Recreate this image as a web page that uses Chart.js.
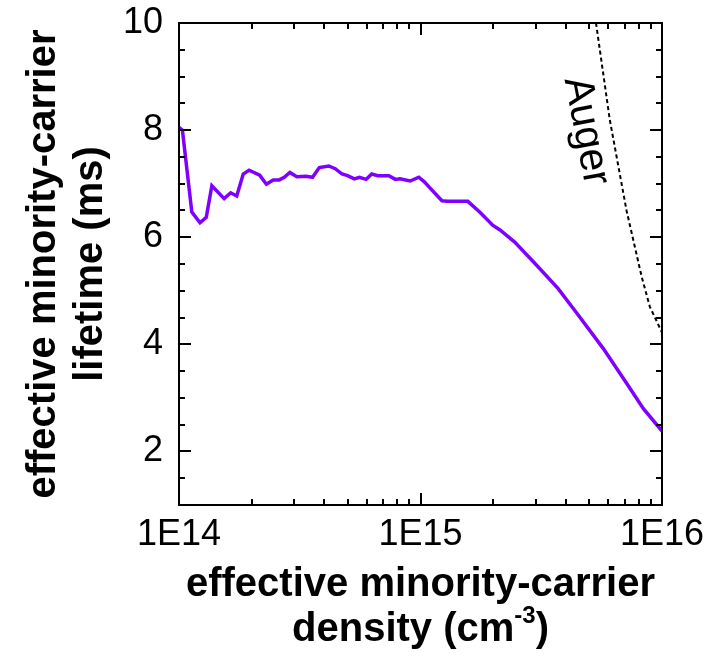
<!DOCTYPE html>
<html>
<head>
<meta charset="utf-8">
<script src="https://cdn.jsdelivr.net/npm/chart.js@4.4.1/dist/chart.umd.min.js"></script>
<style>
  html, body { margin: 0; padding: 0; background: #fff; }
</style>
</head>
<body>
<canvas id="lifetimeChart" width="717" height="662"></canvas>
<script>
// --- Data ---
// measured effective lifetime (ms) vs. minority-carrier density (cm^-3)
const densities = [
    1.000e14, 1.033e14, 1.130e14, 1.222e14, 1.297e14, 1.368e14, 1.538e14, 1.637e14,
    1.734e14, 1.845e14, 1.950e14, 2.158e14, 2.301e14, 2.455e14, 2.600e14, 2.729e14,
    2.877e14, 3.076e14, 3.350e14, 3.573e14, 3.811e14, 4.169e14, 4.436e14, 4.732e14,
    4.989e14, 5.321e14, 5.585e14, 5.957e14, 6.281e14, 6.653e14, 7.396e14, 7.870e14,
    8.222e14, 9.057e14, 9.840e14, 1.040e15, 1.089e15, 1.227e15, 1.288e15, 1.570e15,
    1.758e15, 1.995e15, 2.128e15, 2.455e15, 3.020e15, 3.715e15, 4.426e15, 5.715e15,
    7.145e15, 8.375e15, 1.000e16
];
const lifetimes = [
    8.05, 8.00, 6.47, 6.27, 6.37, 6.96, 6.72, 6.83,
    6.77, 7.18, 7.25, 7.16, 6.99, 7.07, 7.07, 7.12,
    7.21, 7.13, 7.14, 7.12, 7.30, 7.33, 7.28, 7.18,
    7.15, 7.09, 7.12, 7.08, 7.18, 7.15, 7.15, 7.08,
    7.09, 7.05, 7.12, 7.03, 6.93, 6.68, 6.67, 6.67,
    6.47, 6.22, 6.14, 5.91, 5.48, 5.04, 4.59, 3.92,
    3.27, 2.80, 2.38
];

// Auger limit (dotted)
const augerDensities = [5.33e15, 6.08e15, 7.13e15, 8.24e15, 8.91e15, 1.0e16];
const augerLifetimes = [10.0, 8.19, 6.50, 5.26, 4.70, 4.22];

// Axes
const xMajorTicks = [1e14, 1e15, 1e16];
const xTickLabels = ['1E14', '1E15', '1E16'];
const yMajorTicks = [2, 4, 6, 8, 10];
const yTickLabels = ['2', '4', '6', '8', '10'];

const FONT = "'Liberation Sans', Arial, Helvetica, sans-serif";

// minor ticks: 2..9 x each decade, every 0.5 on y
const xMinorTicks = [];
for (let d = 1e14; d < 1e16; d *= 10) {
    for (let m = 2; m <= 9; m++) xMinorTicks.push(m * d);
}
const yMinorTicks = [];
for (let v = 1; v <= 10; v += 0.5) {
    if (!yMajorTicks.includes(v)) yMinorTicks.push(v);
}

// --- Frame, inward ticks, titles, annotation ---
const framePlugin = {
    id: 'frame',
    afterDraw(chart) {
        const { ctx, chartArea: a, scales: { x, y } } = chart;
        ctx.save();
        ctx.strokeStyle = '#000';
        ctx.lineWidth = 2;
        ctx.strokeRect(a.left, a.top, a.right - a.left, a.bottom - a.top);

        ctx.beginPath();
        function xTick(v, len) {
            const px = Math.round(x.getPixelForValue(v));
            ctx.moveTo(px, a.bottom); ctx.lineTo(px, a.bottom - len);
            ctx.moveTo(px, a.top); ctx.lineTo(px, a.top + len);
        }
        function yTick(v, len) {
            const py = Math.round(y.getPixelForValue(v));
            ctx.moveTo(a.left, py); ctx.lineTo(a.left + len, py);
            ctx.moveTo(a.right, py); ctx.lineTo(a.right - len, py);
        }
        xMajorTicks.forEach(v => xTick(v, 12));
        xMinorTicks.forEach(v => xTick(v, 6));
        yMajorTicks.forEach(v => yTick(v, 12));
        yMinorTicks.forEach(v => yTick(v, 6));
        ctx.stroke();

        // x title (two lines, superscript on the unit)
        ctx.fillStyle = '#000';
        ctx.textBaseline = 'alphabetic';
        ctx.textAlign = 'center';
        const cx = (a.left + a.right) / 2;
        ctx.font = 'bold 40px ' + FONT;
        ctx.fillText('effective minority-carrier', cx, 596);

        const partA = 'density (cm', partSup = '-3', partB = ')';
        ctx.font = 'bold 40px ' + FONT;
        const wA = ctx.measureText(partA).width;
        const wB = ctx.measureText(partB).width;
        ctx.font = 'bold 24px ' + FONT;
        const wS = ctx.measureText(partSup).width;
        let sx = cx - (wA + wS + wB) / 2;
        ctx.textAlign = 'left';
        ctx.font = 'bold 40px ' + FONT;
        ctx.fillText(partA, sx, 641);
        ctx.font = 'bold 24px ' + FONT;
        ctx.fillText(partSup, sx + wA, 623);
        ctx.font = 'bold 40px ' + FONT;
        ctx.fillText(partB, sx + wA + wS, 641);

        // y title
        ctx.save();
        ctx.translate(0, (a.top + a.bottom) / 2);
        ctx.rotate(-Math.PI / 2);
        ctx.textAlign = 'center';
        ctx.font = 'bold 40px ' + FONT;
        ctx.fillText('effective minority-carrier', 0, 55);
        ctx.fillText('lifetime (ms)', 0, 102);
        ctx.restore();

        // Auger label, tilted along the dotted line
        ctx.save();
        ctx.translate(586, 131);
        ctx.rotate(79 * Math.PI / 180);
        ctx.textAlign = 'center';
        ctx.textBaseline = 'middle';
        ctx.font = '41px ' + FONT;
        ctx.fillText('Auger', 0, 0);
        ctx.restore();

        ctx.restore();
    }
};

const ctx = document.getElementById('lifetimeChart').getContext('2d');
const lifetimeChart = new Chart(ctx, {
    type: 'line',
    data: {
        datasets: [
            {
                label: 'measured',
                data: densities.map((d, i) => ({ x: d, y: lifetimes[i] })),
                borderColor: '#7f00ff',
                borderWidth: 3.5,
                pointRadius: 0,
                tension: 0,
                fill: false
            },
            {
                label: 'Auger',
                data: augerDensities.map((d, i) => ({ x: d, y: augerLifetimes[i] })),
                borderColor: '#000',
                borderWidth: 2,
                borderDash: [4, 3],
                pointRadius: 0,
                tension: 0,
                fill: false
            }
        ]
    },
    options: {
        responsive: false,
        animation: false,
        devicePixelRatio: 1,
        layout: { padding: { top: 23, right: 55, bottom: 0, left: 0 } },
        plugins: {
            legend: { display: false },
            tooltip: { enabled: false }
        },
        scales: {
            x: {
                type: 'logarithmic',
                min: 1e14,
                max: 1e16,
                grid: { display: false, drawTicks: false },
                border: { display: false },
                ticks: {
                    color: '#000',
                    font: { family: FONT, size: 36 },
                    padding: 8,
                    maxRotation: 0,
                    autoSkip: false,
                    callback: v => xTickLabels[xMajorTicks.indexOf(v)]
                },
                afterBuildTicks: s => { s.ticks = xMajorTicks.map(v => ({ value: v })); },
                afterFit: s => { s.height = 157; s.paddingLeft = 0; s.paddingRight = 0; }
            },
            y: {
                type: 'linear',
                min: 1,
                max: 10,
                grid: { display: false, drawTicks: false },
                border: { display: false },
                ticks: {
                    color: '#000',
                    font: { family: FONT, size: 36 },
                    padding: 16,
                    callback: v => yTickLabels[yMajorTicks.indexOf(v)]
                },
                afterBuildTicks: s => { s.ticks = yMajorTicks.map(v => ({ value: v })); },
                afterFit: s => { s.width = 179; s.paddingTop = 0; s.paddingBottom = 0; }
            }
        }
    },
    plugins: [framePlugin]
});
</script>
</body>
</html>
